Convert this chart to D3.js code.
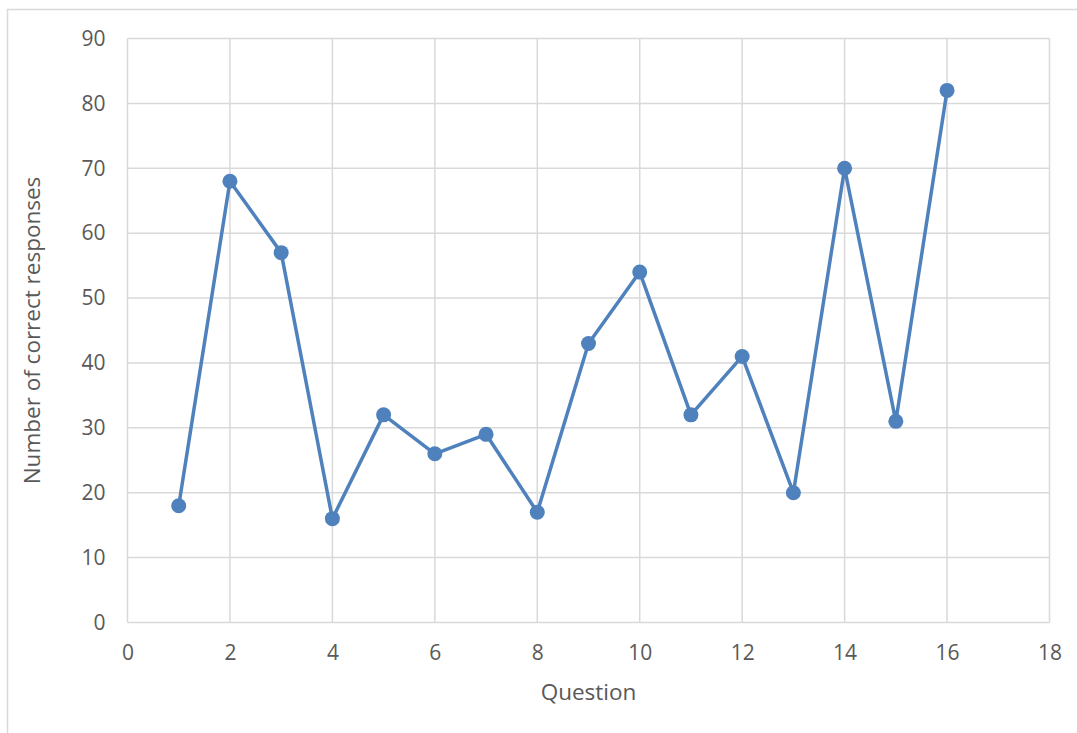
<!DOCTYPE html>
<html><head><meta charset="utf-8">
<script src="https://cdn.jsdelivr.net/npm/d3@7"></script>
<style>body{margin:0;background:#fff;}svg{display:block;font-family:"Open Sans","Liberation Sans",sans-serif;}</style>
</head><body>
<svg id="c" width="1077" height="733"></svg>
<script>
const questions = [1,2,3,4,5,6,7,8,9,10,11,12,13,14,15,16];
const correct = [18,68,57,16,32,26,29,17,43,54,32,41,20,70,31,82];
const xTicks = [0,2,4,6,8,10,12,14,16,18];
const yTicks = [0,10,20,30,40,50,60,70,80,90];

const svg = d3.select("#c");
svg.append("rect").attr("x",7.5).attr("y",9.5).attr("width",1080).attr("height",740)
  .attr("fill","#fff").attr("stroke","#d9d9d9").attr("stroke-width",1.5);

const x = d3.scaleLinear().domain([0,18]).range([127.5,1049.5]);
const y = d3.scaleLinear().domain([0,90]).range([622.5,38.5]);

const g = svg.append("g");
g.selectAll(".vg").data(xTicks).join("line")
  .attr("x1",d=>x(d)).attr("x2",d=>x(d)).attr("y1",y(0)).attr("y2",y(90))
  .attr("stroke","#d9d9d9").attr("stroke-width",1.5);
g.selectAll(".hg").data(yTicks).join("line")
  .attr("x1",x(0)).attr("x2",x(18)).attr("y1",d=>y(d)).attr("y2",d=>y(d))
  .attr("stroke","#d9d9d9").attr("stroke-width",1.5);

const xAxis = svg.append("g").attr("transform",`translate(0,${y(0)})`)
  .call(d3.axisBottom(x).tickValues(xTicks).tickSize(0).tickPadding(23));
const yAxis = svg.append("g").attr("transform",`translate(${x(0)},0)`)
  .call(d3.axisLeft(y).tickValues(yTicks).tickSize(0).tickPadding(22));
[xAxis,yAxis].forEach(a=>{
  a.attr("font-size",21).attr("font-family",null);
  a.select(".domain").remove();
  a.selectAll("text").attr("fill","#595959");
});

const pts = questions.map((q,i)=>({q,v:correct[i]}));
svg.append("path").datum(pts)
  .attr("fill","none").attr("stroke","#4f81bd").attr("stroke-width",3.5).attr("stroke-linejoin","round")
  .attr("d",d3.line().x(d=>x(d.q)).y(d=>y(d.v)));
svg.selectAll(".pt").data(pts).join("circle")
  .attr("cx",d=>x(d.q)).attr("cy",d=>y(d.v)).attr("r",7.5).attr("fill","#4f81bd");

svg.append("text").attr("x",(x(0)+x(18))/2).attr("y",700).attr("text-anchor","middle")
  .attr("fill","#595959").attr("font-size",22.5).text("Question");
svg.append("text").attr("transform",`translate(40,${(y(0)+y(90))/2}) rotate(-90)`)
  .attr("text-anchor","middle").attr("fill","#595959").attr("font-size",22.5).text("Number of correct responses");
</script>
</body></html>
